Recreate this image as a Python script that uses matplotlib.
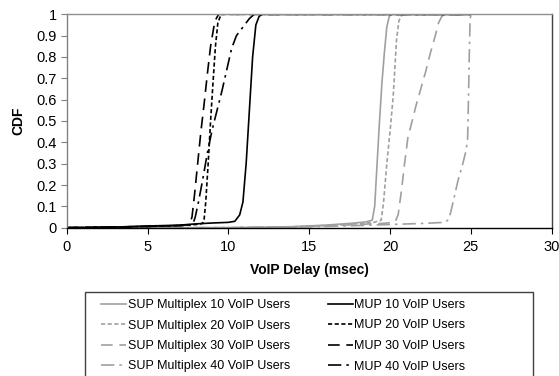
import matplotlib
matplotlib.use("Agg")
import matplotlib.pyplot as plt
from matplotlib.patches import Rectangle

plt.rcParams['font.family'] = ['Liberation Sans', 'DejaVu Sans']

# ---- data ----
sup10_x = [0, 10, 12, 14, 16, 17.5, 18.5, 18.9, 19.05, 19.2, 19.35, 19.5, 19.65, 19.8, 19.95, 20.1, 25]
sup10_y = [0, 0, 0.002, 0.005, 0.012, 0.02, 0.027, 0.035, 0.1, 0.3, 0.5, 0.68, 0.82, 0.94, 0.99, 1.0, 1.0]

sup20_x = [0, 10, 12, 14, 16, 18, 19, 19.45, 19.6, 19.8, 20.0, 20.2, 20.4, 20.55, 20.75, 25]
sup20_y = [0, 0, 0.002, 0.004, 0.01, 0.018, 0.025, 0.035, 0.12, 0.3, 0.45, 0.62, 0.88, 0.97, 1.0, 1.0]

sup30_x = [0, 10, 12, 14, 16, 18, 19.5, 20.3, 20.5, 20.7, 20.9, 21.1, 21.3, 21.6, 21.9, 22.2, 22.5, 22.8, 23.0, 23.2, 23.4, 25]
sup30_y = [0, 0, 0.002, 0.004, 0.008, 0.015, 0.02, 0.025, 0.06, 0.17, 0.3, 0.42, 0.48, 0.57, 0.65, 0.73, 0.82, 0.9, 0.96, 0.99, 1.0, 1.0]

sup40_x = [0, 10, 12, 14, 16, 18, 20, 22, 23.4, 23.65, 23.9, 24.2, 24.5, 24.7, 24.8, 24.85, 24.9, 24.95, 25.0]
sup40_y = [0, 0, 0.001, 0.003, 0.006, 0.01, 0.015, 0.02, 0.025, 0.04, 0.12, 0.22, 0.3, 0.36, 0.42, 0.6, 0.8, 0.97, 1.0]

mup10_x = [0, 3, 5, 7, 8, 9, 10, 10.4, 10.7, 10.9, 11.1, 11.3, 11.5, 11.7, 11.9, 12.1, 25]
mup10_y = [0, 0.003, 0.008, 0.012, 0.018, 0.022, 0.025, 0.03, 0.06, 0.12, 0.3, 0.55, 0.8, 0.95, 0.99, 1.0, 1.0]

mup20_x = [0, 3, 5, 7, 8, 8.4, 8.5, 8.6, 8.75, 8.9, 9.05, 9.2, 9.35, 9.5, 9.65, 25]
mup20_y = [0, 0.003, 0.006, 0.01, 0.015, 0.02, 0.04, 0.12, 0.3, 0.5, 0.68, 0.85, 0.96, 0.99, 1.0, 1.0]

mup30_x = [0, 3, 5, 7, 7.6, 7.75, 7.9, 8.1, 8.3, 8.5, 8.7, 8.9, 9.1, 9.25, 9.4, 25]
mup30_y = [0, 0.003, 0.006, 0.01, 0.015, 0.05, 0.15, 0.3, 0.45, 0.58, 0.72, 0.85, 0.94, 0.98, 1.0, 1.0]

mup40_x = [0, 3, 5, 7, 7.8, 7.95, 8.15, 8.4, 8.7, 9.0, 9.3, 9.6, 9.9, 10.2, 10.5, 10.9, 11.3, 11.6, 25]
mup40_y = [0, 0.003, 0.006, 0.01, 0.015, 0.05, 0.12, 0.22, 0.35, 0.46, 0.55, 0.64, 0.74, 0.84, 0.9, 0.94, 0.98, 1.0, 1.0]

labels = ["SUP Multiplex 10 VoIP Users", "SUP Multiplex 20 VoIP Users",
          "SUP Multiplex 30 VoIP Users", "SUP Multiplex 40 VoIP Users",
          "MUP 10 VoIP Users", "MUP 20 VoIP Users",
          "MUP 30 VoIP Users", "MUP 40 VoIP Users"]

x_ticks = [0, 5, 10, 15, 20, 25, 30]
y_ticks = [0, 0.1, 0.2, 0.3, 0.4, 0.5, 0.6, 0.7, 0.8, 0.9, 1]
y_tick_labels = ["0", "0.1", "0.2", "0.3", "0.4", "0.5", "0.6", "0.7", "0.8", "0.9", "1"]

# ---- styles ----
GRAY = "#a0a0a0"
styles = [
    (GRAY, "-"),
    (GRAY, (0, (2.5, 1.5))),
    (GRAY, (0, (7, 4))),
    (GRAY, (0, (8, 3, 1.5, 3))),
    ("black", "-"),
    ("black", (0, (2.5, 1.5))),
    ("black", (0, (7, 4))),
    ("black", (0, (8, 3, 1.5, 3))),
]
series = [(sup10_x, sup10_y), (sup20_x, sup20_y), (sup30_x, sup30_y), (sup40_x, sup40_y),
          (mup10_x, mup10_y), (mup20_x, mup20_y), (mup30_x, mup30_y), (mup40_x, mup40_y)]

W, H = 559, 376
fig = plt.figure(figsize=(W / 100, H / 100), dpi=100)
ax = fig.add_axes([66.7 / W, 1 - 227.7 / H, (551.7 - 66.7) / W, (227.7 - 14.3) / H])

handles = []
for (xs, ys), (c, ls), lab in zip(series, styles, labels):
    h, = ax.plot(xs, ys, color=c, linestyle=ls, linewidth=1.2, label=lab)
    handles.append(h)

ax.set_xlim(0, 30)
ax.set_ylim(0, 1)
ax.set_xticks(x_ticks)
ax.set_yticks(y_ticks)
ax.set_yticklabels(y_tick_labels)
ax.tick_params(axis='both', labelsize=10.5, direction='out', length=4, width=0.8, pad=3)
ax.tick_params(axis='y', color="#808080")
ax.tick_params(axis='x', color="black", pad=5)

ax.spines['left'].set_color("#808080")
ax.spines['top'].set_color("#909090")
ax.spines['right'].set_color("#404040")
ax.spines['bottom'].set_color("black")
for s in ax.spines.values():
    s.set_linewidth(1.0)

ax.set_xlabel("VoIP Delay (msec)", fontsize=10, fontweight='bold', labelpad=6)
ax.set_ylabel("CDF", fontsize=10, fontweight='bold', labelpad=8)

# legend
fig.legend(handles=handles, labels=labels, ncol=2, loc='upper left',
           bbox_to_anchor=(101 / W, 1 - 299 / H), frameon=False,
           fontsize=9, handlelength=2.0, handletextpad=0.15,
           columnspacing=3.0, labelspacing=0.68, borderpad=0, borderaxespad=0)
fig.add_artist(Rectangle((85 / W, -0.05), (533 - 85) / W, (376 - 291.7) / H + 0.05,
                         transform=fig.transFigure, fill=False, edgecolor="#404040", linewidth=1.0))

fig.savefig("out.png", dpi=100)
